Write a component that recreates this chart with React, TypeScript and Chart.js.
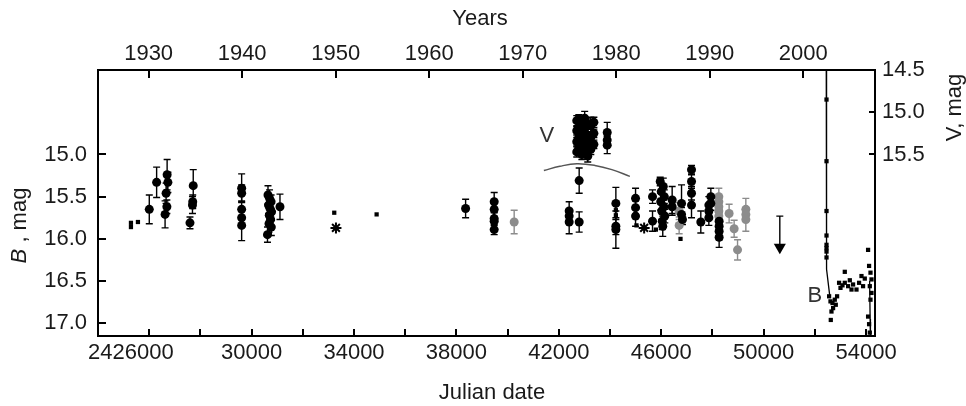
import React, { useEffect, useRef } from 'react';
import { Chart, registerables } from 'chart.js';

Chart.register(...registerables);

const FONT = '"Liberation Sans", Arial, Helvetica, sans-serif';
const TEXT = '#1a1a1a';
const GRAY = '#8c8c8c';

// ---- Axis ticks ----
const jdTicks = [24000, 26000, 28000, 30000, 32000, 34000, 36000, 38000, 40000, 42000, 44000, 46000, 48000, 50000, 52000, 54000];
const jdLabelled = [26000, 30000, 34000, 38000, 42000, 46000, 50000, 54000];
const yearTicks = [1930, 1940, 1950, 1960, 1970, 1980, 1990, 2000];
const bTicks = [15.0, 15.5, 16.0, 16.5, 17.0];
const vTicks = [14.5, 15.0, 15.5];

// ---- B photometry, black points with error bars ----
const blackJD = [26003, 26290, 26700, 26730, 26660, 26690, 26620, 27593, 27720, 27700, 27690,
  29611, 29611, 29611, 29611, 29611,
  30640, 30700, 30760, 30660, 30720, 30780, 30690, 30740, 30680, 30770, 30620,
  31108, 38359, 39475, 39475, 39475, 39475, 39475,
  42404, 42404, 42404, 42795, 42795, 44228, 44228, 44228, 44997, 44997, 44997,
  45660, 45660, 45960, 46080, 46000, 46120, 45980, 46100, 46020, 46140, 46040, 46060,
  46427, 46427, 46793, 46793, 46830, 47183, 47183, 47183, 47183, 47546,
  47860, 47860, 47860, 47938, 47938, 48262, 48262, 48262, 48262];
const blackB = [15.65, 15.33, 15.24, 15.33, 15.46, 15.62, 15.71, 15.81, 15.37, 15.56, 15.60,
  15.40, 15.46, 15.65, 15.75, 15.84,
  15.48, 15.52, 15.56, 15.60, 15.64, 15.68, 15.72, 15.77, 15.82, 15.86, 15.95,
  15.62, 15.64, 15.56, 15.65, 15.76, 15.79, 15.89,
  15.67, 15.73, 15.80, 15.80, 15.31, 15.58, 15.85, 15.89, 15.52, 15.63, 15.73,
  15.50, 15.79, 15.32, 15.38, 15.44, 15.50, 15.56, 15.62, 15.67, 15.73, 15.79, 15.85,
  15.54, 15.62, 15.58, 15.71, 15.77, 15.18, 15.32, 15.46, 15.60, 15.80,
  15.60, 15.67, 15.75, 15.50, 15.58, 15.79, 15.85, 15.91, 15.98];
const blackErr = [0.17, 0.18, 0.18, 0.12, 0.12, 0.08, 0.16, 0.07, 0.19, 0.08, 0.10,
  0.17, 0.10, 0.10, 0.10, 0.18,
  0.11, 0.10, 0.08, 0.10, 0.08, 0.10, 0.08, 0.10, 0.10, 0.10, 0.09,
  0.15, 0.11, 0.11, 0.08, 0.08, 0.10, 0.06,
  0.11, 0.08, 0.14, 0.12, 0.15, 0.19, 0.10, 0.22, 0.12, 0.08, 0.12,
  0.08, 0.12, 0.05, 0.10, 0.08, 0.08, 0.10, 0.08, 0.10, 0.08, 0.10, 0.12,
  0.16, 0.10, 0.22, 0.08, 0.06, 0.05, 0.08, 0.08, 0.15, 0.13,
  0.10, 0.08, 0.09, 0.10, 0.08, 0.10, 0.08, 0.10, 0.12];

// ---- B photometry, gray points with error bars ----
const grayJD = [40256, 46700, 46700, 48250, 48250, 48250, 48250, 48250, 48652, 48848, 48981, 49305, 49305, 49305];
const grayB = [15.80, 15.67, 15.84, 15.50, 15.56, 15.62, 15.67, 15.73, 15.70, 15.88, 16.13, 15.65, 15.71, 15.77];
const grayErr = [0.14, 0.10, 0.10, 0.10, 0.06, 0.06, 0.06, 0.06, 0.11, 0.10, 0.12, 0.13, 0.08, 0.14];

// ---- Small squares (single estimates) ----
const squareJD = [25287, 25287, 25560, 33228, 34883, 44228, 44228, 45033, 45790, 46753];
const squareB = [15.81, 15.86, 15.80, 15.69, 15.71, 15.66, 15.72, 15.84, 15.89, 16.00];

// ---- Recent B data (2002 onwards) ----
const recentJD = [52456, 52456, 52456, 52456, 52456, 52456, 52456, 52456,
  52557, 52611, 52689, 52713, 52650, 52779, 52818, 52623, 52869,
  52947, 53002, 53080, 53170, 53170, 53299, 53366, 53432, 53494, 53627, 53728, 53822, 53884, 53951, 54080,
  54119, 54174, 54213, 54147, 54213, 54174, 54080, 54119, 54147];
const recentB = [14.35, 15.08, 15.67, 15.96, 16.07, 16.11, 16.15, 16.22,
  16.68, 16.74, 16.76, 16.82, 16.86, 16.72, 16.78, 16.96, 16.68,
  16.52, 16.58, 16.55, 16.39, 16.52, 16.56, 16.49, 16.60, 16.54, 16.60, 16.52, 16.44, 16.56, 16.47, 16.13,
  16.32, 16.40, 16.48, 16.56, 16.64, 16.72, 16.92, 17.01, 17.11];

// ---- Asterisks ----
const starJD = [33295, 45333];
const starB = [15.87, 15.87];

// ---- V photometry (right axis) ----
const vJD = [42700, 42700, 42700, 42700, 42780, 42780, 42780, 42780, 42900, 42900, 42900, 42900,
  43010, 43010, 43010, 43010, 43130, 43130, 43130, 43130, 43250, 43250, 43250, 43370, 43370, 43370,
  43890, 43890, 43890];
const vMag = [15.10, 15.22, 15.35, 15.47, 15.08, 15.18, 15.30, 15.42, 15.12, 15.25, 15.37, 15.50,
  15.07, 15.20, 15.33, 15.46, 15.14, 15.28, 15.40, 15.52, 15.16, 15.30, 15.44, 15.12, 15.25, 15.38,
  15.24, 15.33, 15.39];
const vErr = [0.06, 0.05, 0.05, 0.06, 0.05, 0.05, 0.05, 0.06, 0.05, 0.05, 0.05, 0.06,
  0.08, 0.05, 0.05, 0.07, 0.06, 0.05, 0.05, 0.07, 0.10, 0.05, 0.06, 0.06, 0.05, 0.05,
  0.12, 0.05, 0.10];

// ---- Curves ----
const arcJD = [41416, 42041, 42705, 43408, 44072, 44775];
const arcB = [15.19, 15.14, 15.11, 15.13, 15.18, 15.26];
const dropJD = [52445, 52458, 52585];
const dropB = [13.8, 16.36, 16.68];
const edgeJD = [54140, 54160, 54172];
const edgeB = [16.5, 16.95, 17.3];

// ---- Upper limit ----
const limitJD = [50632];
const limitB = [16.10];
const limitSpan = [0.37];

const pts = (xs: number[], ys: number[]) => xs.map((x, i) => ({ x, y: ys[i] }));

// Years <-> JD (1930.0 = JD 2425977.5)
const JD_MIN = 24000;
const JD_MAX = 54350;
const yearOf = (jd: number) => 1930 + (jd - 25977.5) / 365.25;

const errorBarPlugin = {
  id: 'errorBars',
  beforeDatasetsDraw(chart: any) {
    const { ctx, chartArea: a } = chart;
    ctx.save();
    ctx.beginPath();
    ctx.rect(a.left, a.top, a.right - a.left, a.bottom - a.top);
    ctx.clip();
    chart.data.datasets.forEach((ds: any, di: number) => {
      if (!ds.errLo) return;
      const meta = chart.getDatasetMeta(di);
      const xs = chart.scales[meta.xAxisID];
      const ys = chart.scales[meta.yAxisID];
      ctx.strokeStyle = ds.errColor || '#000';
      ctx.lineWidth = 1.4;
      ds.data.forEach((p: any, i: number) => {
        const lo = ds.errLo[i] || 0;
        const hi = ds.errHi ? ds.errHi[i] || 0 : lo;
        const x = xs.getPixelForValue(p.x);
        const y1 = ys.getPixelForValue(p.y - lo);
        const y2 = ys.getPixelForValue(p.y + hi);
        ctx.beginPath();
        ctx.moveTo(x, y1);
        ctx.lineTo(x, y2);
        if (lo > 0) { ctx.moveTo(x - 3.5, y1); ctx.lineTo(x + 3.5, y1); }
        if (hi > 0) { ctx.moveTo(x - 3.5, y2); ctx.lineTo(x + 3.5, y2); }
        ctx.stroke();
      });
    });
    ctx.restore();
  },
};

const inwardTicksPlugin = {
  id: 'inwardTicks',
  afterDraw(chart: any) {
    const { ctx, chartArea: a } = chart;
    ctx.save();
    ctx.strokeStyle = '#000';
    ctx.lineWidth = 2;
    const draw = (scale: any, len: number) => {
      scale.ticks.forEach((t: any) => {
        const p = Math.round(scale.getPixelForValue(t.value));
        ctx.beginPath();
        if (scale.position === 'bottom') { ctx.moveTo(p, a.bottom); ctx.lineTo(p, a.bottom - len); }
        else if (scale.position === 'top') { ctx.moveTo(p, a.top); ctx.lineTo(p, a.top + len); }
        else if (scale.position === 'left') { ctx.moveTo(a.left, p); ctx.lineTo(a.left + len, p); }
        else { ctx.moveTo(a.right, p); ctx.lineTo(a.right - len, p); }
        ctx.stroke();
      });
    };
    draw(chart.scales.x, 7);
    draw(chart.scales.x2, 8);
    draw(chart.scales.y, 8);
    draw(chart.scales.y2, 6);
    ctx.restore();
  },
};

const textPlugin = {
  id: 'texts',
  afterDraw(chart: any) {
    const { ctx } = chart;
    const sx = chart.scales.x;
    const sy = chart.scales.y;
    ctx.save();
    ctx.fillStyle = TEXT;
    ctx.font = `22px ${FONT}`;
    ctx.textAlign = 'center';
    ctx.textBaseline = 'alphabetic';
    ctx.fillText('Years', 480, 24.5);
    ctx.fillText('Julian date', 492, 398.5);

    // left title: "B , mag" with italic B, rotated
    ctx.save();
    ctx.translate(26, 225.5);
    ctx.rotate(-Math.PI / 2);
    ctx.textAlign = 'left';
    const italic = `italic 22px ${FONT}`;
    const normal = `22px ${FONT}`;
    ctx.font = italic;
    const wB = ctx.measureText('B').width;
    ctx.font = normal;
    const wRest = ctx.measureText(' , mag').width;
    const start = -(wB + wRest) / 2;
    ctx.font = italic;
    ctx.fillText('B', start, 0);
    ctx.font = normal;
    ctx.fillText(' , mag', start + wB, 0);
    ctx.restore();

    // right title
    ctx.save();
    ctx.translate(961, 107.5);
    ctx.rotate(-Math.PI / 2);
    ctx.textAlign = 'center';
    ctx.font = normal;
    ctx.fillText('V, mag', 0, 0);
    ctx.restore();

    // in-plot annotations
    ctx.fillStyle = '#333';
    ctx.font = normal;
    ctx.textAlign = 'center';
    ctx.textBaseline = 'middle';
    ctx.fillText('V', sx.getPixelForValue(41533), sy.getPixelForValue(14.78));
    ctx.fillText('B', sx.getPixelForValue(51999), sy.getPixelForValue(16.68));
    ctx.restore();
  },
};

export default function App() {
  const ref = useRef<HTMLCanvasElement>(null);

  useEffect(() => {
    if (!ref.current) return;
    const tickFont = { family: FONT, size: 22 };
    const chart = new Chart(ref.current, {
      type: 'scatter',
      data: {
        datasets: [
          {
            label: 'B', data: pts(blackJD, blackB), errLo: blackErr, errColor: '#000',
            pointStyle: 'circle', pointRadius: 4.5, backgroundColor: '#000', borderWidth: 0,
            xAxisID: 'x', yAxisID: 'y',
          } as any,
          {
            label: 'V', data: pts(vJD, vMag), errLo: vErr, errColor: '#000',
            pointStyle: 'circle', pointRadius: 4.5, backgroundColor: '#000', borderWidth: 0,
            xAxisID: 'x', yAxisID: 'y2',
          } as any,
          {
            label: 'limit', data: pts(limitJD, limitB), errLo: limitSpan, errHi: [0], errColor: '#000',
            pointStyle: 'triangle', rotation: 180, pointRadius: 7, backgroundColor: '#000', borderWidth: 0,
            xAxisID: 'x', yAxisID: 'y',
          } as any,
          {
            label: 'B gray', data: pts(grayJD, grayB), errLo: grayErr, errColor: GRAY,
            pointStyle: 'circle', pointRadius: 4.5, backgroundColor: GRAY, borderWidth: 0,
            xAxisID: 'x', yAxisID: 'y',
          } as any,
          {
            label: 'squares', data: pts(squareJD, squareB),
            pointStyle: 'rect', pointRadius: 3, backgroundColor: '#000', borderWidth: 0,
            xAxisID: 'x', yAxisID: 'y',
          },
          {
            label: 'recent', data: pts(recentJD, recentB),
            pointStyle: 'rect', pointRadius: 3, backgroundColor: '#000', borderWidth: 0,
            xAxisID: 'x', yAxisID: 'y',
          },
          {
            label: 'stars', data: pts(starJD, starB),
            pointStyle: 'star', pointRadius: 5.5, borderColor: '#000', borderWidth: 2, backgroundColor: '#000',
            xAxisID: 'x', yAxisID: 'y',
          },
          {
            label: 'arc', data: pts(arcJD, arcB), showLine: true, tension: 0.4,
            pointRadius: 0, borderColor: '#555', borderWidth: 1.5,
            xAxisID: 'x', yAxisID: 'y',
          },
          {
            label: 'drop', data: pts(dropJD, dropB), showLine: true,
            pointRadius: 0, borderColor: '#000', borderWidth: 1.3,
            xAxisID: 'x', yAxisID: 'y',
          },
          {
            label: 'edge', data: pts(edgeJD, edgeB), showLine: true,
            pointRadius: 0, borderColor: '#000', borderWidth: 1.3,
            xAxisID: 'x', yAxisID: 'y',
          },
        ],
      },
      options: {
        responsive: false,
        maintainAspectRatio: false,
        devicePixelRatio: 1,
        animation: false,
        events: [],
        layout: { padding: 0 },
        plugins: { legend: { display: false }, tooltip: { enabled: false } },
        scales: {
          x: {
            type: 'linear', position: 'bottom', min: JD_MIN, max: JD_MAX,
            afterBuildTicks: (s: any) => { s.ticks = jdTicks.map((value) => ({ value })); },
            afterFit: (s: any) => { s.height = 70; },
            grid: { display: false, drawTicks: false },
            border: { display: true, color: '#000', width: 2 },
            ticks: {
              autoSkip: false, maxRotation: 0, padding: 4, color: TEXT, font: tickFont,
              callback: (v: any) => {
                if (!jdLabelled.includes(v)) return '';
                return v === 26000 ? '24' + v + '      ' : String(v);
              },
            },
          },
          x2: {
            type: 'linear', position: 'top', min: yearOf(JD_MIN), max: yearOf(JD_MAX),
            afterBuildTicks: (s: any) => { s.ticks = yearTicks.map((value) => ({ value })); },
            afterFit: (s: any) => { s.height = 70; },
            grid: { display: false, drawTicks: false },
            border: { display: true, color: '#000', width: 2 },
            ticks: { autoSkip: false, maxRotation: 0, padding: 3, color: TEXT, font: tickFont, callback: (v: any) => String(v) },
          },
          y: {
            type: 'linear', position: 'left', reverse: true, min: 14.0, max: 17.15,
            afterBuildTicks: (s: any) => { s.ticks = bTicks.map((value) => ({ value })); },
            afterFit: (s: any) => { s.width = 98; },
            grid: { display: false, drawTicks: false },
            border: { display: true, color: '#000', width: 2 },
            ticks: { padding: 11, color: TEXT, font: tickFont, callback: (v: any) => Number(v).toFixed(1) },
          },
          y2: {
            type: 'linear', position: 'right', reverse: true, min: 14.5, max: 17.65,
            afterBuildTicks: (s: any) => { s.ticks = vTicks.map((value) => ({ value })); },
            afterFit: (s: any) => { s.width = 91; },
            grid: { display: false, drawTicks: false },
            border: { display: true, color: '#000', width: 2 },
            ticks: { padding: 7, color: TEXT, font: tickFont, callback: (v: any) => Number(v).toFixed(1) },
          },
        },
      } as any,
      plugins: [errorBarPlugin, inwardTicksPlugin, textPlugin],
    });
    return () => chart.destroy();
  }, []);

  return (
    <div style={{ position: 'fixed', left: 0, top: 0, width: 966, height: 406, background: '#fff' }}>
      <canvas ref={ref} width={966} height={406} style={{ display: 'block', width: 966, height: 406 }} />
    </div>
  );
}
